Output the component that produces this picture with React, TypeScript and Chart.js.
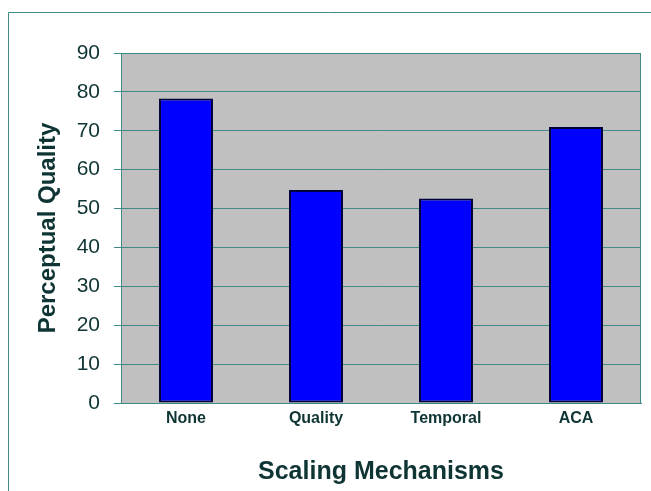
import React, { useEffect, useRef } from "react";
import { Chart, registerables } from "chart.js";

Chart.register(...registerables);

const categories = ["None", "Quality", "Temporal", "ACA"];
const perceptualQuality = [78.3, 54.8, 52.6, 71.0];
const yTicks = [0, 10, 20, 30, 40, 50, 60, 70, 80, 90];

const TEXT = "#0f3434";
const LINE = "#3e8a86";
const FONT = "'Liberation Sans', Arial, sans-serif";

const framePlugin = {
  id: "frame",
  beforeDraw(chart: any) {
    const { ctx, chartArea: a } = chart;
    ctx.save();
    ctx.fillStyle = "#ffffff";
    ctx.fillRect(0, 0, chart.width, chart.height);
    ctx.fillStyle = "#c0c0c0";
    ctx.fillRect(a.left, a.top, a.right - a.left, a.bottom - a.top);
    ctx.strokeStyle = LINE;
    ctx.lineWidth = 1;
    ctx.beginPath();
    ctx.moveTo(8.5, chart.height);
    ctx.lineTo(8.5, 12.5);
    ctx.lineTo(chart.width, 12.5);
    ctx.stroke();
    ctx.restore();
  },
  beforeDatasetsDraw(chart: any) {
    const { ctx, chartArea: a } = chart;
    ctx.save();
    ctx.strokeStyle = LINE;
    ctx.lineWidth = 1;
    ctx.strokeRect(Math.round(a.left) + 0.5, Math.round(a.top) + 0.5, Math.round(a.right - a.left) - 1, Math.round(a.bottom - a.top));
    ctx.restore();
  },
};

export default function App() {
  const ref = useRef<HTMLCanvasElement | null>(null);

  useEffect(() => {
    if (!ref.current) return;
    const chart = new Chart(ref.current, {
      type: "bar",
      data: {
        labels: categories,
        datasets: [
          {
            label: "Perceptual Quality",
            data: perceptualQuality,
            backgroundColor: "#0000ff",
            borderColor: "#00003a",
            borderWidth: 2,
            borderSkipped: false,
            barPercentage: 0.415,
            categoryPercentage: 1,
          },
        ],
      },
      options: {
        responsive: false,
        animation: false,
        layout: { padding: { left: 0, top: 53, right: 10, bottom: 0 } },
        plugins: {
          legend: { display: false },
          tooltip: { enabled: false },
          title: { display: false },
        },
        scales: {
          x: {
            grid: { display: false, drawTicks: false },
            border: { display: true, color: LINE, width: 1 },
            ticks: {
              color: TEXT,
              padding: 6,
              font: { family: FONT, size: 16, weight: "bold" },
              maxRotation: 0,
            },
            title: {
              display: true,
              text: "Scaling Mechanisms",
              color: TEXT,
              font: { family: FONT, size: 25, weight: "bold" },
              padding: { top: 0, bottom: 4 },
            },
            afterFit(scale: any) {
              scale.height = 88;
            },
          },
          y: {
            min: 0,
            max: 90,
            afterBuildTicks(scale: any) {
              scale.ticks = yTicks.map((v) => ({ value: v }));
            },
            grid: { color: LINE, lineWidth: 1, drawTicks: true, tickLength: 7, tickColor: LINE },
            border: { display: true, color: LINE, width: 1 },
            ticks: {
              color: TEXT,
              padding: 14,
              font: { family: FONT, size: 21 },
            },
            title: {
              display: true,
              text: "Perceptual Quality",
              color: TEXT,
              font: { family: FONT, size: 24, weight: "bold" },
              padding: { top: 34, bottom: 0 },
            },
            afterFit(scale: any) {
              scale.width = 121;
            },
          },
        },
      },
      plugins: [framePlugin],
    } as any);
    return () => chart.destroy();
  }, []);

  return (
    <div style={{ position: "absolute", left: 0, top: 0, width: 651, height: 491 }}>
      <canvas ref={ref} width={651} height={491} style={{ display: "block" }} />
    </div>
  );
}
